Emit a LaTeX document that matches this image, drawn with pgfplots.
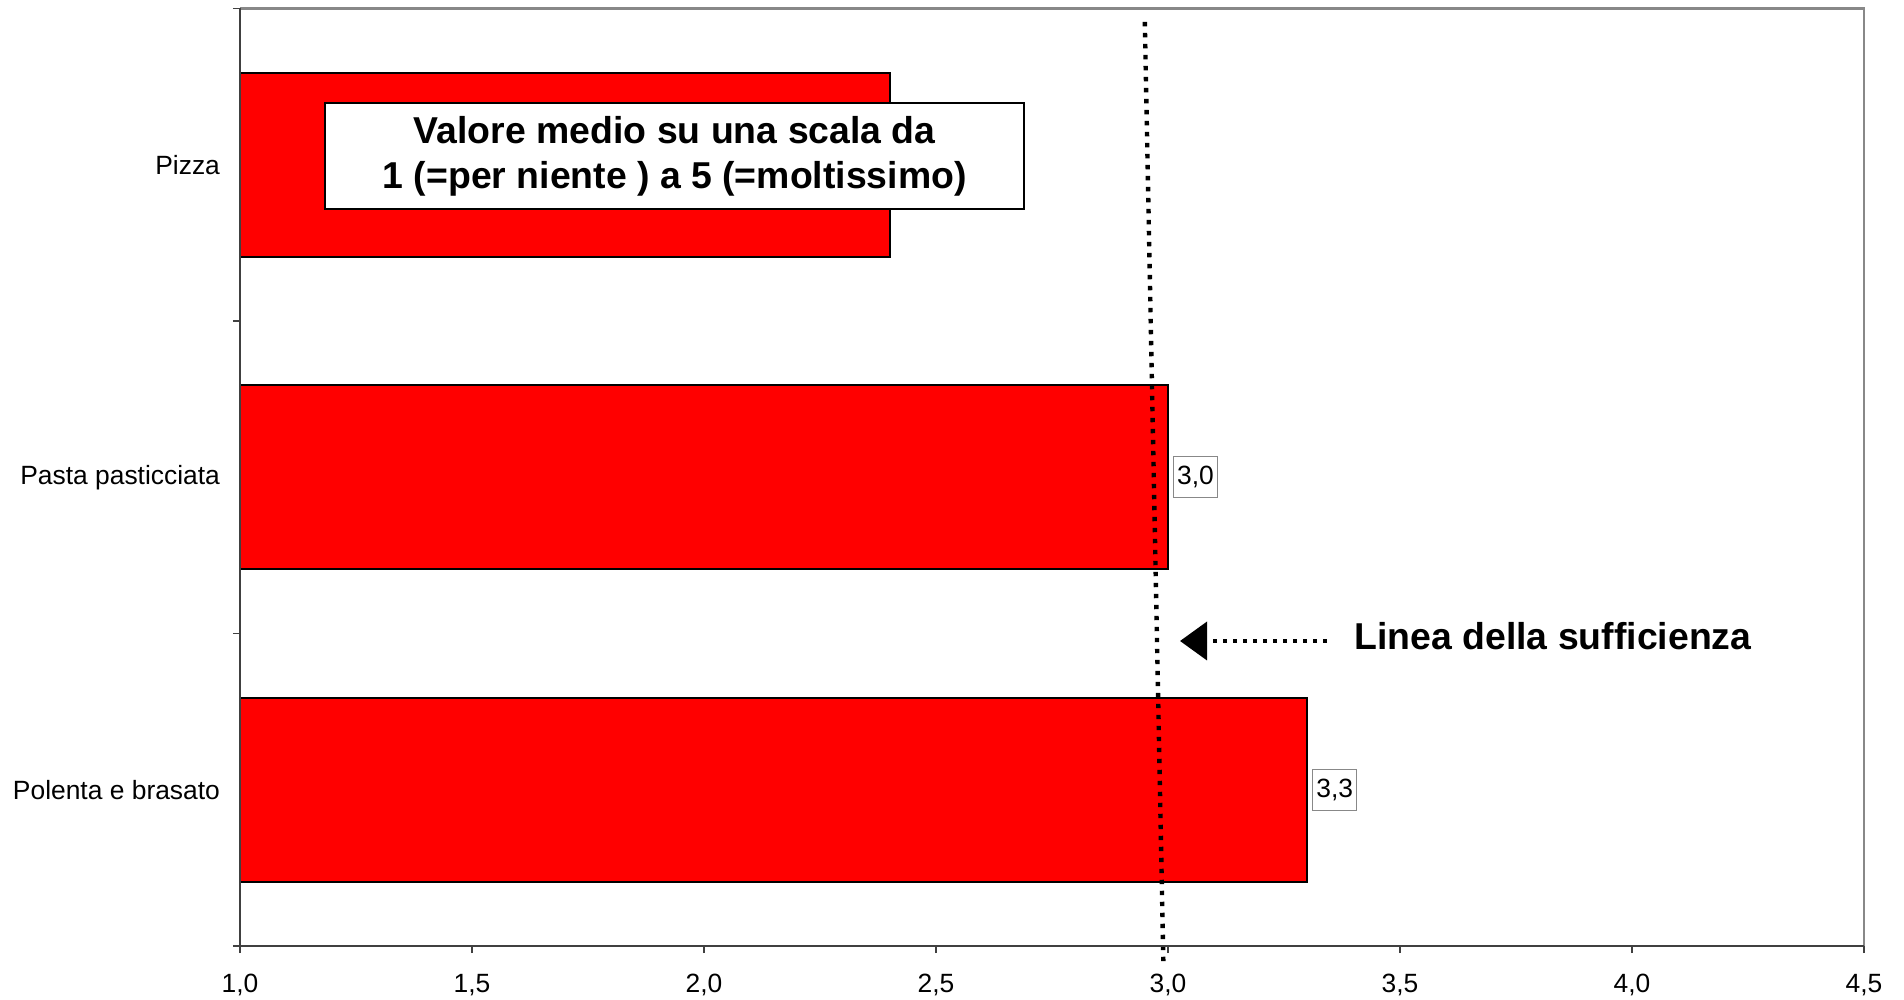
\documentclass[border=0pt]{standalone}
\usepackage{fontspec}
\setmainfont{Liberation Sans}
\usepackage{pgfplots}
\pgfplotsset{compat=1.18}

\begin{document}
\begin{tikzpicture}

\definecolor{barred}{RGB}{255,0,0}
\definecolor{axisdark}{RGB}{64,64,64}
\definecolor{framegray}{RGB}{136,136,136}

\path[use as bounding box] (-120pt,-27pt) rectangle (832pt,473pt);

\begin{axis}[
scale only axis,
width=812pt, height=468.75pt,
xmin=1, xmax=4.5,
ymin=-0.5, ymax=2.5,
xbar, bar width=0.59,
clip mode=individual,
axis line style={draw=none},
tick align=outside,
xtick pos=bottom, ytick pos=left,
major tick length=3.5pt,
tick style={draw=axisdark, line width=0.6pt},
xtick={1,1.5,2,2.5,3,3.5,4,4.5},
/pgf/number format/.cd, fixed, fixed zerofill, precision=1, use comma, assume math mode=true,
/pgfplots/.cd,
tick label style={font=\fontsize{13.2}{15.8}\selectfont},
xticklabel style={yshift=-7pt},
yticklabel style={xshift=-3pt},
ytick={0,1,2},
yticklabels={Polenta e brasato, Pasta pasticciata, Pizza},
ytick style={draw=none},
extra y ticks={-0.5,0.5,1.5,2.5},
extra y tick labels={},
extra y tick style={ytick style={draw=axisdark}},
nodes near coords={\pgfplotspointmeta},
every node near coord/.append style={
  anchor=west, xshift=2.5pt, yshift=0pt,
  draw=framegray, fill=white, line width=0.6pt,
  font=\fontsize{13.2}{15.8}\selectfont,
  text height=9.5pt, text depth=2pt,
  inner xsep=1.8pt, inner ysep=4.5pt
},
]
% the label of Pizza lies under the text box, left empty
\addplot[fill=barred, draw=black, line width=1pt, point meta=explicit symbolic]
table[meta=lab] {
x y lab
3.3 0 {3,3}
3.0 1 {3,0}
2.4 2 {}
};

% linea della sufficienza
\draw[line width=2.2pt, dash pattern=on 2.2pt off 3.3pt]
  (axis cs:2.95,2.457) -- (axis cs:2.99,-0.554);

\node[draw=black, fill=white, line width=0.8pt, minimum width=349.5pt,
  minimum height=53pt, align=center, inner sep=0pt,
  font=\bfseries\fontsize{18.7}{22.5}\selectfont]
  at (axis cs:1.937,2.028)
  {Valore medio su una scala da\\1 (=per niente ) a 5 (=moltissimo)};

\draw[line width=2.2pt, dash pattern=on 2.2pt off 2.8pt]
  (axis cs:3.343,0.476) -- (axis cs:3.052,0.476);
\fill (axis cs:3.026,0.476) -- ([xshift=13.5pt,yshift=9.75pt]axis cs:3.026,0.476)
  -- ([xshift=13.5pt,yshift=-9.75pt]axis cs:3.026,0.476) -- cycle;
\node[anchor=west, inner sep=0pt, font=\bfseries\fontsize{18.7}{22}\selectfont]
  at (axis cs:3.401,0.492) {Linea della sufficienza};

% cornice
\draw[framegray, line width=1.2pt] (rel axis cs:0,1) -- (rel axis cs:1,1) -- (rel axis cs:1,0);
\draw[axisdark, line width=0.8pt] (rel axis cs:0,1) -- (rel axis cs:0,0) -- (rel axis cs:1,0);
\end{axis}

\end{tikzpicture}
\end{document}
